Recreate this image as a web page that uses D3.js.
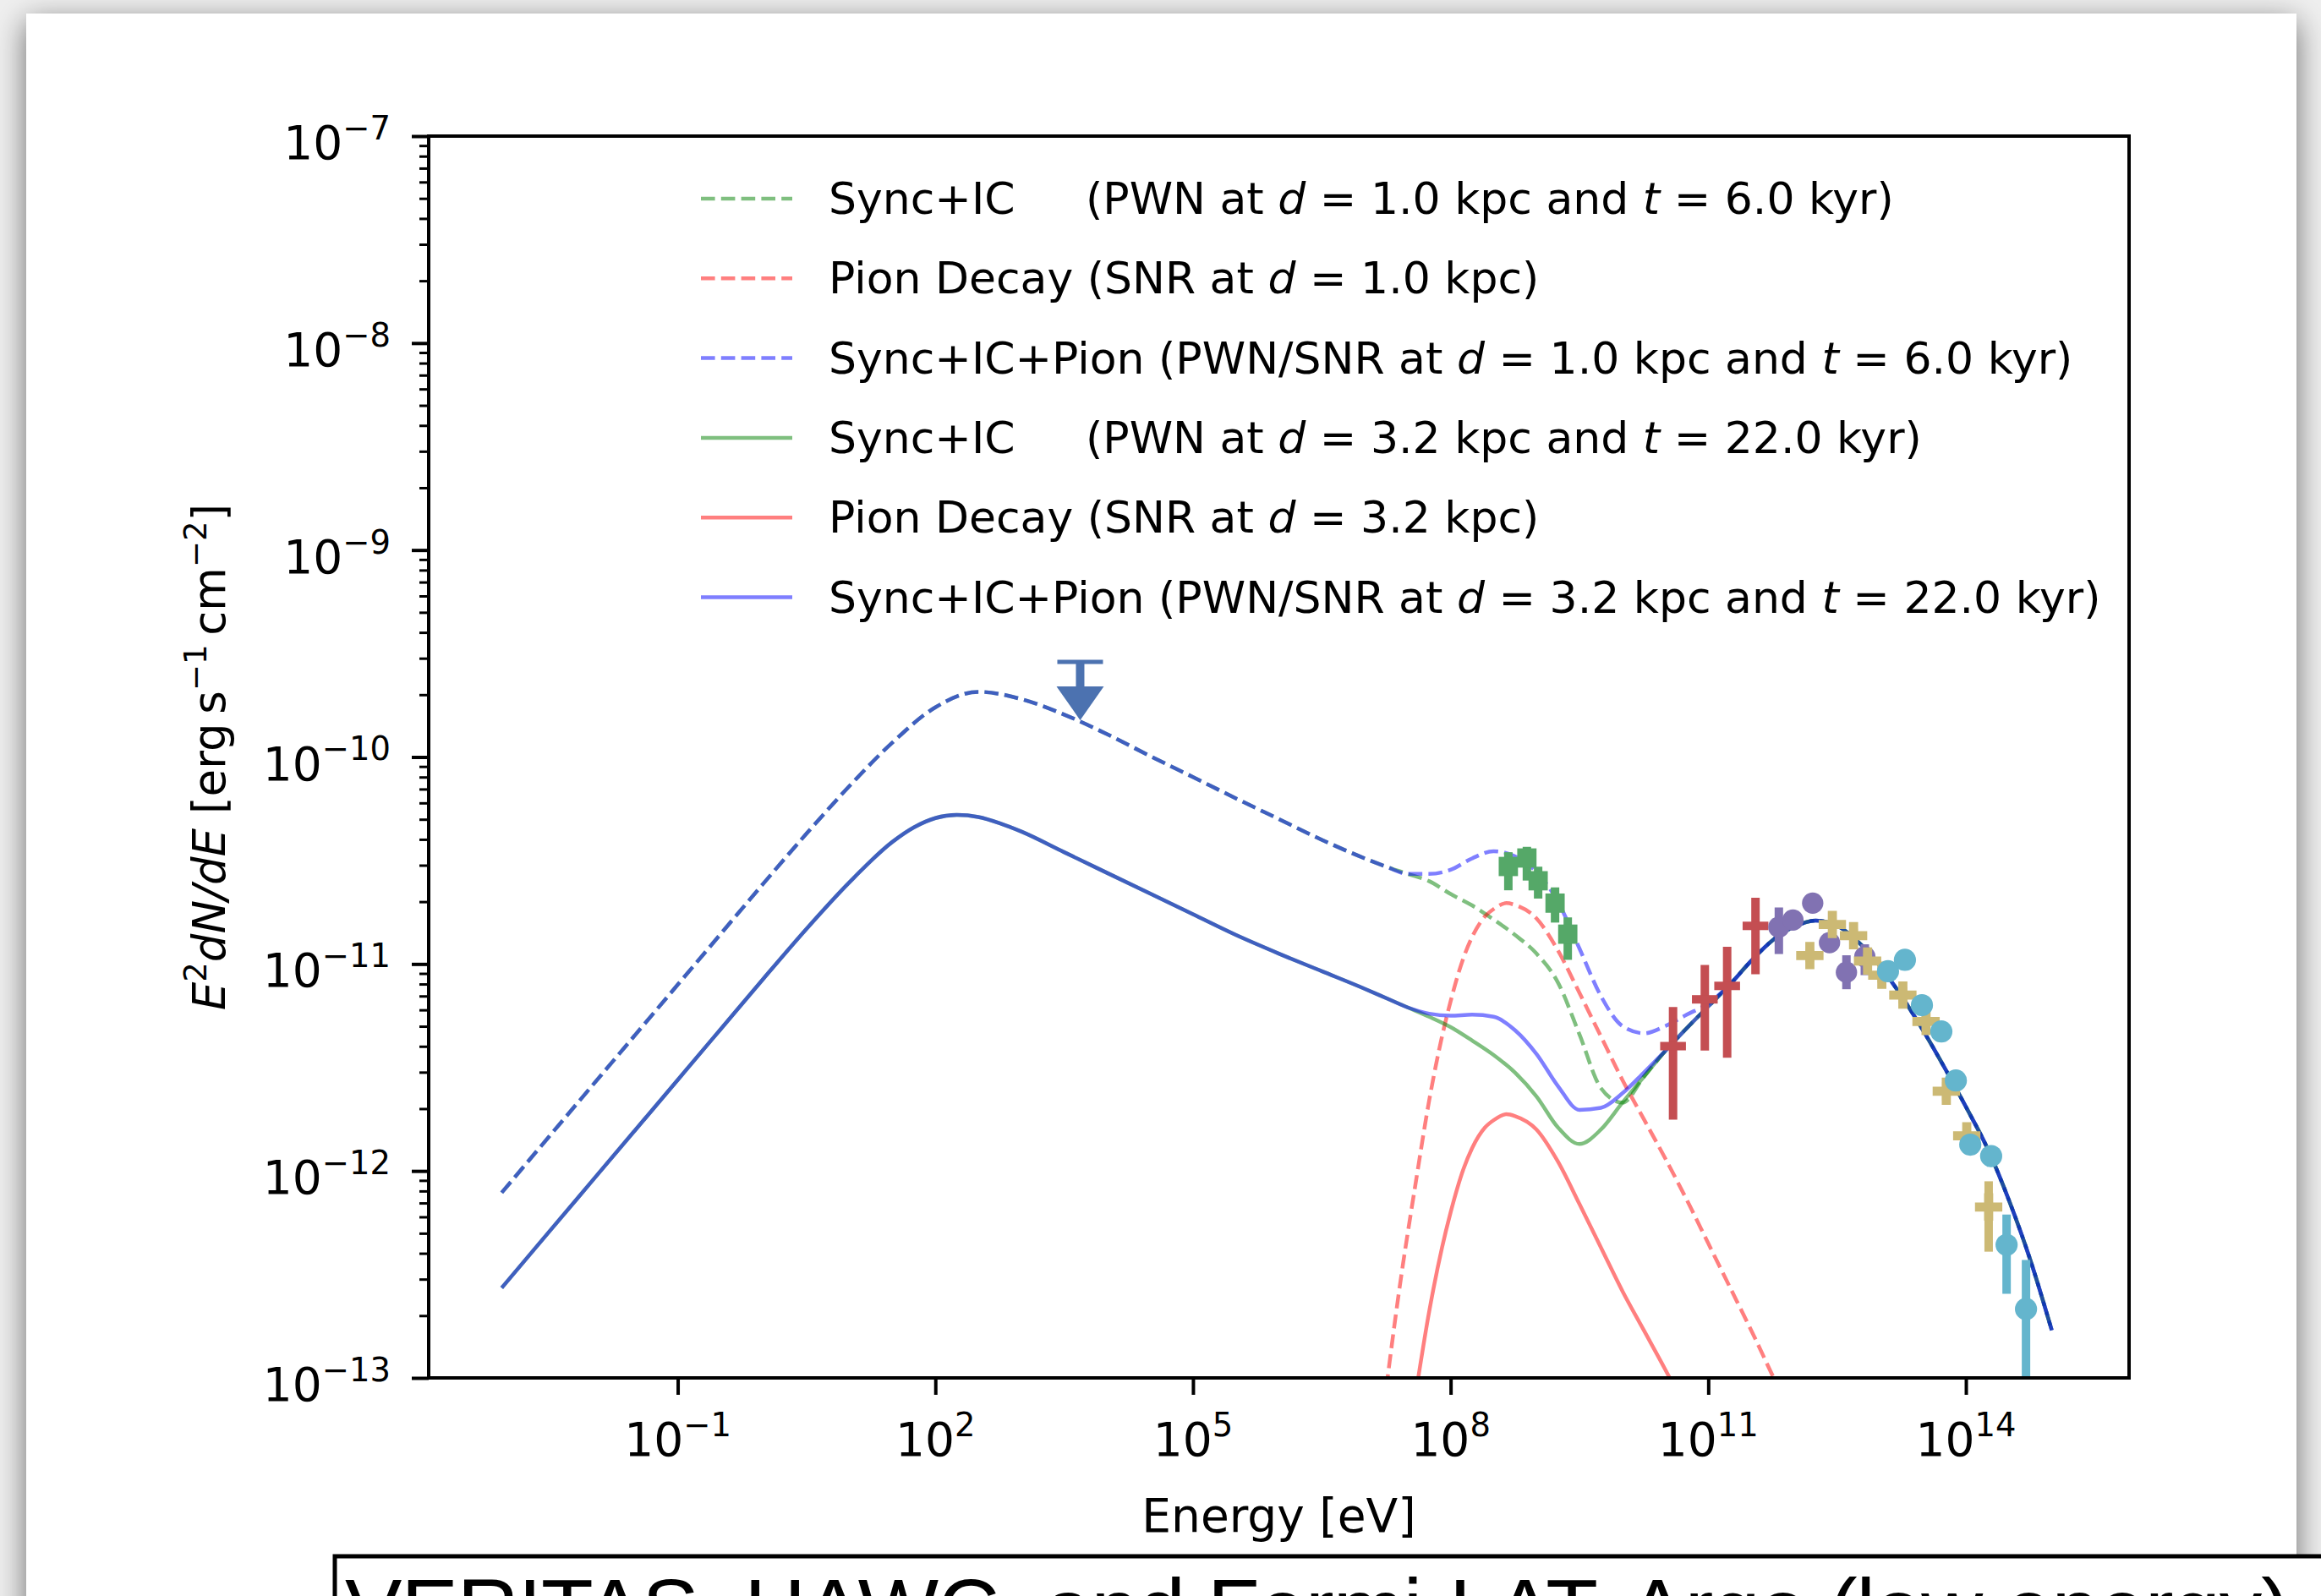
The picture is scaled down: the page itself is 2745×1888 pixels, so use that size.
<!DOCTYPE html>
<html>
<head>
<meta charset="utf-8">
<script src="https://cdn.jsdelivr.net/npm/d3@7"></script>
<style>
  html, body { margin: 0; padding: 0; width: 2745px; height: 1888px; overflow: hidden; background: #efefef; }
  #card { position: absolute; left: 31px; top: 16px; width: 2685px; height: 2000px; background: #fff;
          box-shadow: 0 10px 34px rgba(0,0,0,0.55); }
  #chart { position: absolute; left: 0; top: 0; }
</style>
</head>
<body>
<div id="card"></div>
<svg id="chart" width="2745" height="1888"></svg>
<script>
/* CONSTANTS */
const plot = {left: 507, right: 2518, top: 161, bottom: 1630};
const FONT = "DejaVu Sans";
const fs = 55, legFs = 52;

/* DATA : [log10 E (eV), log10 E^2dN/dE (erg s^-1 cm^-2)] */
// low energy sync part, shared by Sync+IC and Sync+IC+Pion of each model
const syncNearLow = [[-3.05,-12.105],[-2.5,-11.835],[-2,-11.59],[-1.5,-11.345],[-1,-11.1],[-0.5,-10.855],[0,-10.61],[0.5,-10.37],[1,-10.14],[1.5,-9.93],[2,-9.76],[2.5,-9.685],[3,-9.72],[3.5,-9.795],[4,-9.89],[4.5,-9.995],[5,-10.097],[5.5,-10.2],[6,-10.3],[6.5,-10.4],[7,-10.49],[7.25,-10.53],[7.5,-10.565]];
const syncFarLow = [[-3.05,-12.565],[-2.5,-12.295],[-2,-12.05],[-1.5,-11.805],[-1,-11.56],[-0.5,-11.315],[0,-11.07],[0.5,-10.83],[1,-10.605],[1.5,-10.41],[1.75,-10.34],[2,-10.295],[2.25,-10.28],[2.5,-10.29],[2.75,-10.32],[3,-10.36],[3.5,-10.46],[4,-10.56],[4.5,-10.66],[5,-10.76],[5.5,-10.86],[6,-10.95],[6.5,-11.035],[7,-11.12],[7.25,-11.165],[7.5,-11.21]];
// middle parts where the curves split
const syncNearMid = [[7.75,-10.6],[8,-10.662],[8.25,-10.717],[8.5,-10.785],[8.75,-10.86],[9,-10.95],[9.25,-11.09],[9.5,-11.34],[9.75,-11.6]];
const totalNearMid = [[7.75,-10.565],[8,-10.545],[8.25,-10.49],[8.5,-10.455],[8.75,-10.48],[9,-10.555],[9.25,-10.7],[9.5,-10.925],[9.75,-11.155],[10,-11.3],[10.25,-11.335],[10.5,-11.3],[10.75,-11.245],[11,-11.19]];
const syncFarMid = [[7.75,-11.255],[8,-11.305],[8.25,-11.37],[8.5,-11.44],[8.75,-11.525],[9,-11.64],[9.25,-11.79],[9.5,-11.87],[9.75,-11.8]];
const totalFarMid = [[7.75,-11.24],[8,-11.25],[8.25,-11.245],[8.5,-11.255],[8.75,-11.32],[9,-11.435],[9.25,-11.59],[9.5,-11.705],[9.75,-11.695],[10,-11.625],[10.25,-11.525]];
// high energy IC part, common to all four leptonic curves
const icHigh = [[10,-11.67],[10.25,-11.545],[10.5,-11.42],[10.75,-11.31],[11,-11.205],[11.25,-11.1],[11.5,-10.985],[11.75,-10.885],[12,-10.82],[12.25,-10.79],[12.5,-10.815],[12.75,-10.895],[13,-11.01],[13.25,-11.155],[13.5,-11.32],[13.75,-11.5],[14,-11.69],[14.25,-11.89],[14.5,-12.14],[14.75,-12.43],[15,-12.77]];
// pion decay
const pionNear = [[7.25,-13.05],[7.4,-12.58],[7.6,-12.04],[7.75,-11.66],[7.9,-11.35],[8,-11.18],[8.15,-10.97],[8.25,-10.87],[8.4,-10.77],[8.5,-10.735],[8.65,-10.706],[8.75,-10.715],[9,-10.78],[9.25,-10.935],[9.5,-11.14],[9.75,-11.35],[10,-11.56],[10.25,-11.75],[10.5,-11.94],[10.75,-12.14],[11,-12.35],[11.25,-12.56],[11.5,-12.77],[11.75,-12.99],[12,-13.21]];
const pionFar = [[7.6,-13.06],[7.75,-12.68],[7.9,-12.37],[8,-12.2],[8.15,-11.99],[8.25,-11.89],[8.4,-11.79],[8.5,-11.755],[8.65,-11.726],[8.75,-11.735],[9,-11.8],[9.25,-11.955],[9.5,-12.16],[9.75,-12.37],[10,-12.58],[10.25,-12.77],[10.5,-12.96],[10.75,-13.16]];

// measured points: [log10 E, log10 flux, log10 low, log10 high]
const greenPts = [[8.672,-10.529,-10.644,-10.46],[8.888,-10.488,-10.597,-10.434],[9.019,-10.598,-10.684,-10.53],[9.216,-10.706,-10.8,-10.63],[9.364,-10.856,-10.98,-10.775]];
const redPts = [[10.59,-11.397,-11.752,-11.208],[10.96,-11.171,-11.418,-11.005],[11.22,-11.106,-11.453,-10.917],[11.55,-10.816,-11.05,-10.68]];
const purplePts = [[11.822,-10.822,-10.952,-10.727],[11.986,-10.788,-10.83,-10.75],[12.216,-10.706,-10.74,-10.67],[12.412,-10.897,-10.94,-10.86],[12.609,-11.04,-11.122,-10.958],[12.823,-10.965,-11.054,-10.905]];
const tanPts = [[12.183,-10.959,-10.99,-10.93],[12.445,-10.809,-10.84,-10.78],[12.692,-10.863,-10.9,-10.83],[12.855,-10.986,-11.02,-10.95],[13.021,-11.054,-11.09,-11.02],[13.266,-11.15,-11.19,-11.11],[13.536,-11.278,-11.32,-11.24],[13.772,-11.615,-11.66,-11.57],[14.01,-11.83,-11.88,-11.78],[14.265,-12.174,-12.39,-12.05]];
const cyanPts = [[13.093,-11.035,-11.06,-11.01],[13.29,-10.98,-11.0,-10.96],[13.488,-11.199,-11.23,-11.17],[13.714,-11.326,-11.36,-11.29],[13.883,-11.563,-11.6,-11.53],[14.051,-11.873,-11.92,-11.83],[14.294,-11.928,-11.98,-11.88],[14.474,-12.357,-12.594,-12.211],[14.7,-12.667,-13.5,-12.43]];
const upperLimit = [3.686, -9.54];

const xTickExp = [-1, 2, 5, 8, 11, 14];
const yTickExp = [-13, -12, -11, -10, -9, -8, -7];

const legendRows = [
  {dash: true,  color: "green", name: "Sync+IC",      paren: ["(PWN at ", "d", " = 1.0 kpc and ", "t", " = 6.0 kyr)"]},
  {dash: true,  color: "red",   name: "Pion Decay",   paren: ["(SNR at ", "d", " = 1.0 kpc)"]},
  {dash: true,  color: "blue",  name: "Sync+IC+Pion", paren: ["(PWN/SNR at ", "d", " = 1.0 kpc and ", "t", " = 6.0 kyr)"]},
  {dash: false, color: "green", name: "Sync+IC",      paren: ["(PWN at ", "d", " = 3.2 kpc and ", "t", " = 22.0 kyr)"]},
  {dash: false, color: "red",   name: "Pion Decay",   paren: ["(SNR at ", "d", " = 3.2 kpc)"]},
  {dash: false, color: "blue",  name: "Sync+IC+Pion", paren: ["(PWN/SNR at ", "d", " = 3.2 kpc and ", "t", " = 22.0 kyr)"]}
];

/* SCALES */
const xScale = d3.scaleLog().domain([Math.pow(10, -3.9), Math.pow(10, 15.9)]).range([plot.left, plot.right]);
const yScale = d3.scaleLog().domain([1e-13, 1e-7]).range([plot.bottom, plot.top]);
const px = v => xScale(Math.pow(10, v));
const py = v => yScale(Math.pow(10, v));

const svg = d3.select("#chart");

svg.append("clipPath").attr("id", "clip")
  .append("rect").attr("x", plot.left).attr("y", plot.top)
  .attr("width", plot.right - plot.left).attr("height", plot.bottom - plot.top);

/* MODEL CURVES */
const line = d3.line().x(d => px(d[0])).y(d => py(d[1])).curve(d3.curveMonotoneX);
const LW = 4.5, DASH = "16.6,7.2";

const curves = [
  {pts: syncNearLow.concat(syncNearMid, icHigh), color: "green", dash: true},
  {pts: pionNear, color: "red", dash: true},
  {pts: syncNearLow.concat(totalNearMid, icHigh.filter(d => d[0] > 11.1)), color: "blue", dash: true},
  {pts: syncFarLow.concat(syncFarMid, icHigh), color: "green", dash: false},
  {pts: pionFar, color: "red", dash: false},
  {pts: syncFarLow.concat(totalFarMid, icHigh.filter(d => d[0] > 10.4)), color: "blue", dash: false}
];

const gPlot = svg.append("g").attr("clip-path", "url(#clip)");

gPlot.selectAll("path.model")
  .data(curves)
  .join("path")
  .attr("class", "model")
  .attr("d", d => line(d.pts))
  .attr("fill", "none")
  .attr("stroke", d => d.color)
  .attr("stroke-opacity", 0.5)
  .attr("stroke-width", LW)
  .attr("stroke-dasharray", d => d.dash ? DASH : null);

/* DATA POINTS */
function drawPoints(data, color, shape, size, ew, xerr) {
  const g = gPlot.append("g");
  g.selectAll("line.ey").data(data).join("line")
    .attr("x1", d => px(d[0])).attr("x2", d => px(d[0]))
    .attr("y1", d => py(d[2])).attr("y2", d => py(d[3]))
    .attr("stroke", color).attr("stroke-width", ew);
  if (xerr) {
    g.selectAll("line.ex").data(data).join("line")
      .attr("x1", d => px(d[0] - xerr)).attr("x2", d => px(d[0] + xerr))
      .attr("y1", d => py(d[1])).attr("y2", d => py(d[1]))
      .attr("stroke", color).attr("stroke-width", ew);
  }
  if (shape) {
    g.selectAll("path.mk").data(data).join("path")
      .attr("transform", d => `translate(${px(d[0])},${py(d[1])})`)
      .attr("d", d3.symbol().type(shape).size(size))
      .attr("fill", color);
  }
}
drawPoints(greenPts, "#55A868", d3.symbolSquare, 520, 10, 0);
drawPoints(redPts, "#C44E52", null, 0, 10, 0.15);
drawPoints(purplePts, "#8172B2", d3.symbolCircle, 500, 10, 0.08);
drawPoints(tanPts, "#CCB974", d3.symbolCross, 580, 10, 0);
drawPoints(cyanPts, "#64B5CD", d3.symbolCircle, 540, 10, 0);

// upper limit arrow
const ulx = px(upperLimit[0]), uly = py(upperLimit[1]);
const ul = svg.append("g").attr("fill", "#4C72B0").attr("stroke", "#4C72B0");
ul.append("line").attr("x1", ulx - 27).attr("x2", ulx + 27).attr("y1", uly).attr("y2", uly).attr("stroke-width", 5);
ul.append("line").attr("x1", ulx).attr("x2", ulx).attr("y1", uly).attr("y2", uly + 31).attr("stroke-width", 10);
ul.append("path").attr("stroke", "none")
  .attr("d", `M${ulx - 28},${uly + 29} L${ulx + 28},${uly + 29} L${ulx},${uly + 69} Z`);

/* AXES */
function mathLabel(sel, parts, size) {
  // parts: [text, kind] kind = "n" normal, "i" italic, "s" superscript
  let up = false;
  parts.forEach(p => {
    const t = sel.append("tspan").text(p[0]);
    if (p[1] === "i") t.attr("font-style", "italic");
    if (p[1] === "s") {
      t.attr("font-size", size * 0.7);
      if (!up) { t.attr("dy", -size * 0.42); up = true; }
    } else if (up) {
      t.attr("dy", size * 0.42); up = false;
    }
  });
}
const minus = e => String(e).replace("-", "\u2212");

const xAxis = d3.axisBottom(xScale)
  .tickValues(xTickExp.map(e => Math.pow(10, e)))
  .tickSize(20).tickSizeOuter(0).tickFormat("");
const gx = svg.append("g").attr("transform", `translate(0,${plot.bottom})`).call(xAxis);
gx.select(".domain").remove();
gx.selectAll(".tick line").attr("stroke", "#000").attr("stroke-width", 4);
gx.selectAll(".tick text").remove();

svg.append("g").selectAll("text").data(xTickExp).join("text")
  .attr("x", e => px(e)).attr("y", plot.bottom + 92)
  .attr("text-anchor", "middle")
  .attr("font-family", FONT).attr("font-size", fs).attr("fill", "#000")
  .each(function (e) { mathLabel(d3.select(this), [["10", "n"], [minus(e), "s"]], fs); });

const yAxis = d3.axisLeft(yScale)
  .tickValues(yTickExp.map(e => Math.pow(10, e)))
  .tickSize(20).tickSizeOuter(0).tickFormat("");
const gy = svg.append("g").attr("transform", `translate(${plot.left},0)`).call(yAxis);
gy.select(".domain").remove();
gy.selectAll(".tick line").attr("stroke", "#000").attr("stroke-width", 4);
gy.selectAll(".tick text").remove();

const yMinor = [];
for (let k = -13; k < -7; k++) for (let m = 2; m <= 9; m++) yMinor.push(m * Math.pow(10, k));
const gyMinor = svg.append("g").attr("transform", `translate(${plot.left},0)`)
  .call(d3.axisLeft(yScale).tickValues(yMinor).tickSize(11).tickSizeOuter(0).tickFormat(""));
gyMinor.select(".domain").remove();
gyMinor.selectAll(".tick line").attr("stroke", "#000").attr("stroke-width", 3);

svg.append("g").selectAll("text").data(yTickExp).join("text")
  .attr("x", plot.left - 45).attr("y", e => py(e) + 27)
  .attr("text-anchor", "end")
  .attr("font-family", FONT).attr("font-size", fs).attr("fill", "#000")
  .each(function (e) { mathLabel(d3.select(this), [["10", "n"], [minus(e), "s"]], fs); });

// frame
svg.append("rect")
  .attr("x", plot.left).attr("y", plot.top)
  .attr("width", plot.right - plot.left).attr("height", plot.bottom - plot.top)
  .attr("fill", "none").attr("stroke", "#000").attr("stroke-width", 4);

// axis titles
svg.append("text")
  .attr("x", (plot.left + plot.right) / 2).attr("y", 1812)
  .attr("text-anchor", "middle")
  .attr("font-family", FONT).attr("font-size", fs).attr("fill", "#000")
  .text("Energy [eV]");

const ylab = svg.append("text")
  .attr("transform", `translate(266,${(plot.top + plot.bottom) / 2}) rotate(-90)`)
  .attr("text-anchor", "middle")
  .attr("font-family", FONT).attr("font-size", 53).attr("fill", "#000");
mathLabel(ylab, [["E", "i"], ["2", "s"], ["dN/dE", "i"], [" [erg\u2009s", "n"], ["\u22121", "s"], ["\u2009cm", "n"], ["\u22122", "s"], ["]", "n"]], 53);

/* LEGEND */
const legY0 = 235, legDy = 94.3;
const gLeg = svg.append("g");
legendRows.forEach((r, i) => {
  const yy = legY0 + i * legDy;
  gLeg.append("line")
    .attr("x1", 829).attr("x2", 937).attr("y1", yy).attr("y2", yy)
    .attr("stroke", r.color).attr("stroke-opacity", 0.5).attr("stroke-width", LW)
    .attr("stroke-dasharray", r.dash ? DASH : null);
  const t = gLeg.append("text")
    .attr("x", 980).attr("y", yy + 18)
    .attr("font-family", FONT).attr("font-size", legFs).attr("fill", "#000")
    .attr("xml:space", "preserve");
  t.append("tspan").text(r.name);
  r.paren.forEach((s, j) => {
    const ts = t.append("tspan").text(j === 0 && r.name !== "Sync+IC" ? " " + s : s);
    if (j === 0 && r.name === "Sync+IC") ts.attr("x", 1284);
    if (s === "d" || s === "t") ts.attr("font-style", "italic");
  });
});

/* CAPTION BOX (cut by the page edge) */
svg.append("rect")
  .attr("x", 396).attr("y", 1841).attr("width", 2500).attr("height", 200)
  .attr("fill", "#fff").attr("stroke", "#000").attr("stroke-width", 5);
svg.append("text")
  .attr("x", 408).attr("y", 1938)
  .attr("font-family", "Liberation Sans").attr("font-size", 101).attr("fill", "#000")
  .attr("textLength", 2300).attr("lengthAdjust", "spacing")
  .text("VERITAS, HAWC, and Fermi-LAT, Argo (low energy)");
</script>
</body>
</html>
